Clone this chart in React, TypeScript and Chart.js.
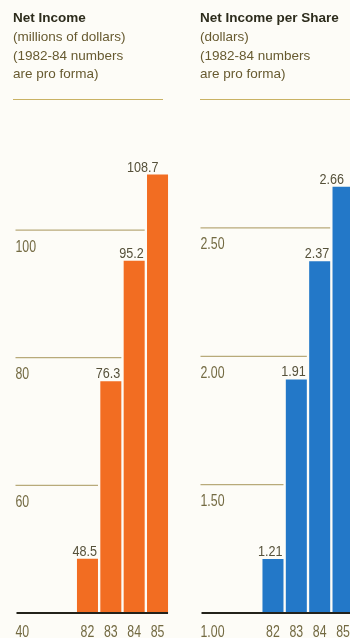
import React, { useEffect, useRef } from 'react';
import { Chart, registerables } from 'chart.js';

Chart.register(...registerables);

// Fiscal years shown under the bars
const years = ['82', '83', '84', '85'];

// Net income, millions of dollars
const netIncome = [48.5, 76.3, 95.2, 108.7];
const netIncomeTicks = [40, 60, 80, 100];

// Net income per share, dollars
const perShare = [1.21, 1.91, 2.37, 2.66];
const perShareTicks = [1.0, 1.5, 2.0, 2.5];

const SANS = "'Liberation Sans', Arial, sans-serif";
const GRID_COLOR = '#b8aa7a';
const TICK_COLOR = '#736a42';
const VALUE_COLOR = '#56513a';
const BASE_COLOR = '#23221a';

// narrow figures: the label font is squeezed horizontally
const TICK_SQUEEZE = 0.77;
const VALUE_SQUEEZE = 0.9;

function squeezedText(
  ctx: CanvasRenderingContext2D,
  text: string,
  x: number,
  y: number,
  sx: number,
  align: CanvasTextAlign
) {
  ctx.save();
  ctx.translate(x, y);
  ctx.scale(sx, 1);
  ctx.textAlign = align;
  ctx.textBaseline = 'alphabetic';
  ctx.fillText(text, 0, 0);
  ctx.restore();
}

type PanelProps = {
  left: number;
  width: number;
  title: string;
  subtitle: string[];
  values: number[];
  ticks: number[];
  yMin: number;
  yMax: number;
  color: string;
  tickDigits: number;
  valueDigits: number;
  pad: { left: number; right: number; top: number; bottom: number };
  gridStart: number;
  ruleWidth: number;
  textLeft: number;
};

function Panel(p: PanelProps) {
  const ref = useRef<HTMLCanvasElement | null>(null);

  useEffect(() => {
    const canvas = ref.current;
    if (!canvas) return;

    const frame = {
      id: 'annualFrame',
      beforeDatasetsDraw(chart: any) {
        const ctx = chart.ctx;
        const y = chart.scales.y;
        const bars = chart.getDatasetMeta(0).data;
        ctx.save();
        // reference lines run from the left margin up to the first bar that rises past them
        ctx.strokeStyle = GRID_COLOR;
        ctx.lineWidth = 1.3;
        p.ticks.forEach((t) => {
          if (t === p.yMin) return;
          const py = y.getPixelForValue(t);
          const idx = p.values.findIndex((v) => v > t);
          let end: number;
          if (idx === -1) {
            const b = bars[bars.length - 1];
            end = b.x + b.width / 2;
          } else if (idx === 0) {
            const b = bars[0];
            end = b.x - b.width / 2 - 2;
          } else {
            const b = bars[idx - 1];
            end = b.x + b.width / 2;
          }
          ctx.beginPath();
          ctx.moveTo(p.gridStart, py);
          ctx.lineTo(end, py);
          ctx.stroke();
        });
        // scale values sit just below their lines
        ctx.fillStyle = TICK_COLOR;
        ctx.font = `16px ${SANS}`;
        p.ticks.forEach((t) => {
          const py = y.getPixelForValue(t);
          squeezedText(ctx, t.toFixed(p.tickDigits), p.gridStart, py + (t === p.yMin ? 23.5 : 21.5), TICK_SQUEEZE, 'left');
        });
        ctx.restore();
      },
      afterDatasetsDraw(chart: any) {
        const ctx = chart.ctx;
        const y = chart.scales.y;
        const bars = chart.getDatasetMeta(0).data;
        ctx.save();
        // base line
        const by = y.getPixelForValue(p.yMin);
        const last = bars[bars.length - 1];
        ctx.strokeStyle = BASE_COLOR;
        ctx.lineWidth = 2;
        ctx.beginPath();
        ctx.moveTo(p.gridStart + 1, by);
        ctx.lineTo(last.x + last.width / 2, by);
        ctx.stroke();

        // value labels above each bar
        ctx.fillStyle = VALUE_COLOR;
        ctx.font = `14px ${SANS}`;
        bars.forEach((b: any, i: number) => {
          const isLast = i === bars.length - 1;
          const x = isLast ? b.x + 1 : b.x + b.width / 2 - 1;
          squeezedText(ctx, p.values[i].toFixed(p.valueDigits), x, b.y - 3, VALUE_SQUEEZE, 'right');
        });

        // year labels under the base line
        ctx.fillStyle = TICK_COLOR;
        ctx.font = `16px ${SANS}`;
        bars.forEach((b: any, i: number) => {
          squeezedText(ctx, years[i], b.x, by + 23.5, TICK_SQUEEZE, 'center');
        });
        ctx.restore();
      },
    };

    const chart = new Chart(canvas, {
      type: 'bar',
      data: {
        labels: years,
        datasets: [
          {
            data: p.values,
            backgroundColor: p.color,
            borderWidth: 0,
            barPercentage: 0.9,
            categoryPercentage: 1,
          },
        ],
      },
      options: {
        animation: false,
        responsive: false,
        devicePixelRatio: 1,
        layout: { padding: p.pad },
        scales: {
          x: { display: false },
          y: { display: false, min: p.yMin, max: p.yMax },
        },
        plugins: {
          legend: { display: false },
          tooltip: { enabled: false },
          title: { display: false },
        },
      },
      plugins: [frame],
    });
    return () => chart.destroy();
  }, []);

  return (
    <div style={{ position: 'absolute', left: p.left, top: 0, width: p.width, height: 638 }}>
      <canvas ref={ref} width={p.width} height={638} style={{ position: 'absolute', left: 0, top: 0 }} />
      <div
        style={{
          position: 'absolute',
          left: p.textLeft,
          top: 9,
          fontFamily: SANS,
          fontSize: 13.5,
          lineHeight: '18.8px',
          whiteSpace: 'nowrap',
        }}
      >
        <div style={{ fontWeight: 'bold', color: '#2d2c1c' }}>{p.title}</div>
        {p.subtitle.map((s) => (
          <div key={s} style={{ color: '#675a30' }}>
            {s}
          </div>
        ))}
      </div>
      <div
        style={{
          position: 'absolute',
          left: p.textLeft,
          top: 99,
          width: p.ruleWidth,
          height: 1.3,
          background: '#c9b264',
        }}
      />
    </div>
  );
}

export default function App() {
  return (
    <div
      style={{
        position: 'absolute',
        left: 0,
        top: 0,
        width: 350,
        height: 638,
        overflow: 'hidden',
        background: '#fdfcf7',
      }}
    >
      <Panel
        left={0}
        width={175}
        title="Net Income"
        subtitle={['(millions of dollars)', '(1982-84 numbers', 'are pro forma)']}
        values={netIncome}
        ticks={netIncomeTicks}
        yMin={40}
        yMax={115}
        color="#f26d22"
        tickDigits={0}
        valueDigits={1}
        pad={{ left: 75.8, right: 5.8, top: 134.3, bottom: 25 }}
        gridStart={15.5}
        ruleWidth={150}
        textLeft={13}
      />
      <Panel
        left={175}
        width={185}
        title="Net Income per Share"
        subtitle={['(dollars)', '(1982-84 numbers', 'are pro forma)']}
        values={perShare}
        ticks={perShareTicks}
        yMin={1}
        yMax={2.85}
        color="#2378c8"
        tickDigits={2}
        valueDigits={2}
        pad={{ left: 86.3, right: 5.3, top: 138.1, bottom: 25 }}
        gridStart={25.5}
        ruleWidth={150}
        textLeft={25}
      />
    </div>
  );
}
